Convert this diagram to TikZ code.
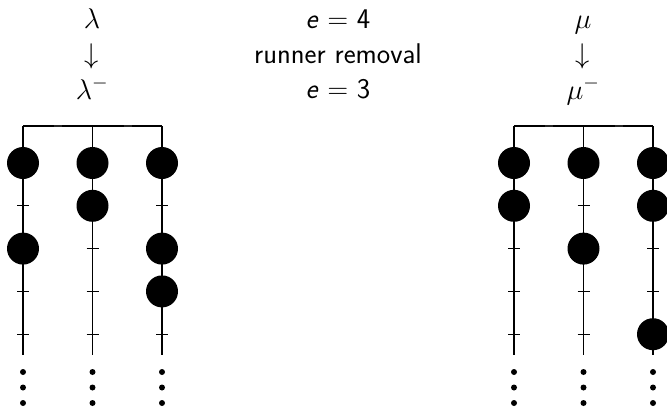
\RequirePackage{fix-cm}
\documentclass[tikz,border=0pt]{standalone}
\usetikzlibrary{calc}
\tikzset{
  runner/.style={line width=1.2pt},
  bead/.style={circle, fill=black, inner sep=0pt, minimum size=32pt},
  tick/.style={line width=1pt},
  lbl/.style={anchor=base, inner sep=0pt, font=\fontsize{28.5}{34}\selectfont\sffamily},
  vdot/.style={circle, fill=black, inner sep=0pt, minimum size=6pt}
}
% \drawabacus{name}{x of first runner}{bead rows of runner 1}{runner 2}{runner 3}
\newcommand{\drawabacus}[5]{%
  \coordinate (#1top1) at (#2,126);
  \coordinate (#1top3) at (#2+139,126);
  \draw[runner] (#1top1) -- (#1top3);
  \foreach \r [count=\k] in {0,1,2} {
    \coordinate (#1r\k top) at (#2+69.5*\r,126);
    \coordinate (#1r\k bot) at (#2+69.5*\r,355);
    \draw[runner] (#1r\k top) -- (#1r\k bot);
    \foreach \j in {0,1,2,3,4} {
      \draw[tick] ($(#1r\k top)+(-6,37+42.8*\j)$) -- ++(12,0);
    }
    \foreach \j in {0,1,2} {
      \node[vdot] (#1r\k d\j) at ($(#1r\k bot)+(0,17+15.5*\j)$) {};
    }
  }
  \draw[line width=2.2pt, black!85] ($(#1top1)+(31,0)$) -- ++(8,0);
  \draw[line width=2.2pt, black!85] ($(#1top1)+(100.5,0)$) -- ++(8,0);
  \foreach \j in {#3} \node[bead] at ($(#1r1top)+(0,37+42.8*\j)$) {};
  \foreach \j in {#4} \node[bead] at ($(#1r2top)+(0,37+42.8*\j)$) {};
  \foreach \j in {#5} \node[bead] at ($(#1r3top)+(0,37+42.8*\j)$) {};
}
\begin{document}
\begin{tikzpicture}[x=1pt,y=-1pt]
\useasboundingbox (0,0) rectangle (667,407);
\clip (0,0) rectangle (667,407);

% headings
\node[lbl] (lam)  at (92,28) {$\lambda$};
\node[lbl] (arL)  at (92,63) {$\downarrow$};
\node[lbl] (lamm) at (92,99) {$\lambda^-$};
\node[lbl] (e4)   at (338,28) {\textit{e} $=$ 4};
\node[lbl] (rr)   at (338,63) {runner removal};
\node[lbl] (e3)   at (338,98) {\textit{e} $=$ 3};
\node[lbl] (mu)   at (583,28) {$\mu$};
\node[lbl] (arR)  at (583,63) {$\downarrow$};
\node[lbl] (mum)  at (583,99) {$\mu^-$};

% abaci
\drawabacus{L}{23}{0,2}{0,1}{0,2,3}
\drawabacus{R}{514}{0,1}{0,2}{0,1,4}
\end{tikzpicture}
\end{document}
